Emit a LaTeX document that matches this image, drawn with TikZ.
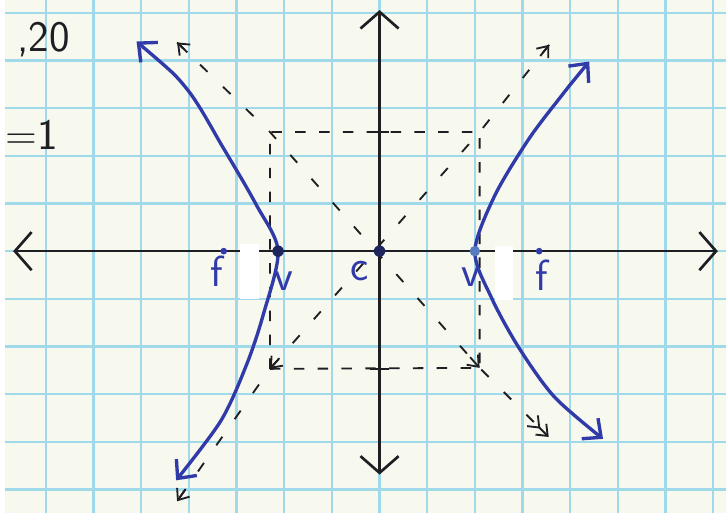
\documentclass[tikz,border=0pt]{standalone}
\usetikzlibrary{arrows.meta,calc}

\definecolor{paper}{RGB}{247,248,238}
\definecolor{gridblue}{RGB}{160,218,234}
\definecolor{inkblue}{RGB}{48,58,168}
\definecolor{navy}{RGB}{30,36,92}
\definecolor{paleblue}{RGB}{90,122,190}
\definecolor{ink}{RGB}{30,30,35}

\tikzset{
  axis/.style={ink, line width=1.6pt,
    {Straight Barb[length=0.35cm,width=0.8cm]}-{Straight Barb[length=0.35cm,width=0.8cm]}},
  hyp/.style={inkblue, line width=2pt, line cap=round,
    {Straight Barb[length=0.3cm,width=0.55cm]}-{Straight Barb[length=0.3cm,width=0.55cm]}},
  asym/.style={ink, line width=1.1pt, dash pattern=on 0.22cm off 0.45cm},
  asymtip/.style={ink, line width=1.1pt},
  boxline/.style={ink, line width=1.1pt, dash pattern=on 0.22cm off 0.28cm},
  hand/.style={font=\sffamily\fontsize{26}{26}\selectfont},
}

\begin{document}
\begin{tikzpicture}[>={Straight Barb[length=0.2cm,width=0.32cm]}]
    \begin{scope}
        % 1. Giấy kẻ ô
        \fill[paper] (-7.854,-5.5) rectangle (7.271,5.271);
        \useasboundingbox (-7.854,-5.5) rectangle (7.271,5.271);
        \draw[gridblue, line width=1.4pt] (-7.854,-5.5) grid (7.271,5.271);
    \end{scope}

    % 2. Hai trục
    \draw[axis] (-7.69,0) -- (7.1,0);
    \draw[axis] (0,-4.69) -- (0,5.06);

    % 3. Chỗ xoá trắng
    \fill[white] (-2.92,0.15) rectangle (-2.52,-1.0);
    \fill[white] (2.42,0.1) rectangle (2.8,-1.02);

    % 4. Hình chữ nhật cơ sở và tiệm cận
    \coordinate (D) at (-2.3,2.5);
    \coordinate (C) at (2.1,2.5);
    \coordinate (B) at (2.1,-2.45);
    \coordinate (A) at (-2.3,-2.47);
    \coordinate (ul) at (-4.25,4.38);
    \coordinate (ur) at (3.56,4.33);
    \coordinate (bl) at (-4.25,-5.25);
    \coordinate (br) at (3.55,-3.9);

    \draw[boxline] (A) -- (B) -- (C) -- (D) -- cycle;
    \draw[ink, line width=1.1pt] (-0.2,2.5) -- (0.2,2.5);
    \draw[ink, line width=1.1pt] (-0.2,-2.47) -- (0.2,-2.47);

    \draw[asym] (ul) -- (D) -- (B) -- (br);
    \draw[asym] (ur) -- (C) -- (A) -- (bl);
    % đầu mũi tên nét liền
    \draw[asymtip, ->] ($(ul)!0.3cm!(D)$) -- (ul);
    \draw[asymtip, ->] ($(B)!0.3cm!(D)$) -- (B);
    \draw[asymtip, ->>] ($(br)!0.3cm!(B)$) -- (br);
    \draw[asymtip, ->] ($(ur)!0.3cm!(C)$) -- (ur);
    \draw[asymtip, ->] ($(A)!0.3cm!(C)$) -- (A);
    \draw[asymtip, ->] ($(bl)!0.3cm!(A)$) -- (bl);

    % 5. Hai nhánh hyperbol
    \draw[hyp] plot[smooth] coordinates {(-5.10,4.40) (-4.04,3.40) (-3.27,2.15)
        (-2.58,0.96) (-2.13,0) (-2.44,-1.33) (-2.79,-2.38) (-3.33,-3.56) (-4.27,-4.81)};
    \draw[hyp] plot[smooth] coordinates {(4.40,3.98) (3.81,3.25) (3.13,2.35)
        (2.42,1.17) (2.0,0) (2.35,-0.98) (2.92,-2.02) (3.67,-3.06) (4.69,-3.94)};

    % 6. Tâm, đỉnh, tiêu điểm
    \fill[navy] (0,0) circle (0.12);
    \fill[navy] (-2.13,0) circle (0.12);
    \fill[paleblue] (2.0,0) circle (0.11);
    \fill[inkblue] (-3.27,0) circle (0.07);
    \fill[inkblue] (3.35,0) circle (0.07);

    \node[hand, inkblue] (fleft) at (-3.42,-0.42) {f};
    \node[hand, inkblue] (fright) at (3.40,-0.5) {f};
    \node[hand, inkblue] (clab) at (-0.42,-0.42) {c};
    \node[hand, inkblue] (vleft) at (-2.0,-0.62) {v};
    \node[hand, inkblue] (vright) at (1.92,-0.55) {v};

    % 7. Ghi chú bên trái
    \node[hand, ink] (note) at (-7.05,4.45) {,20};
    \node[hand, ink] (eqone) at (-7.3,2.45) {=1};
\end{tikzpicture}
\end{document}
